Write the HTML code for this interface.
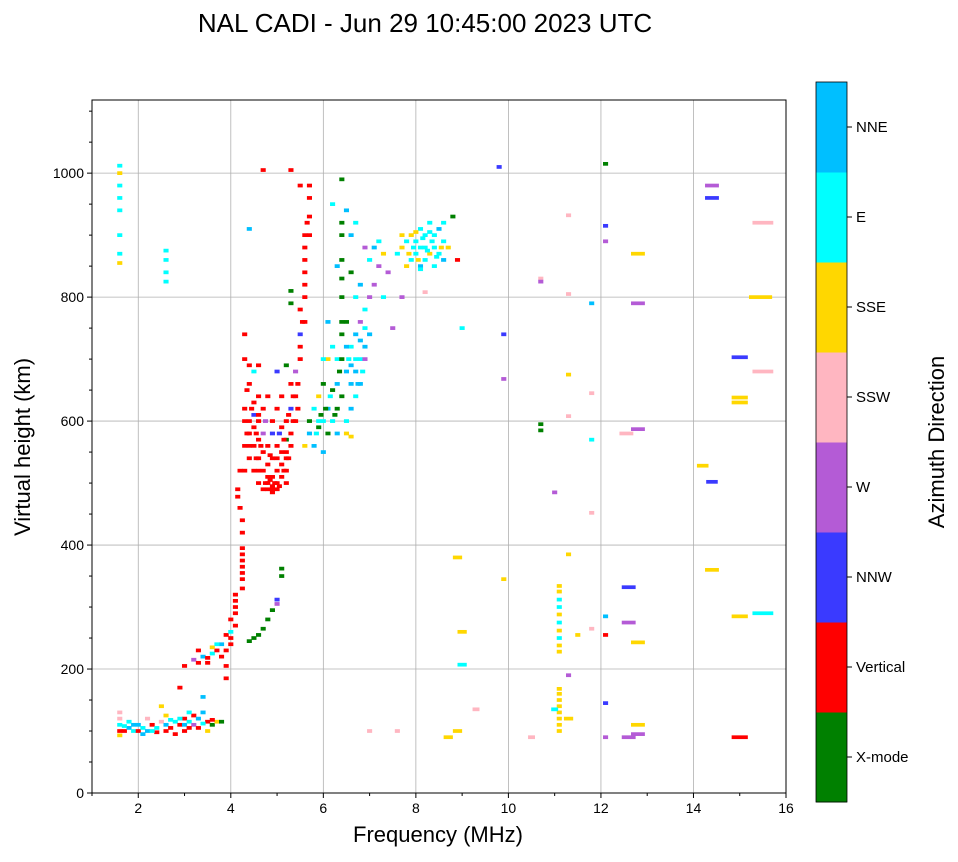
<!DOCTYPE html>
<html><head><meta charset="utf-8"><style>
body{margin:0;background:#fff;font-family:"Liberation Sans",sans-serif}
</style></head><body>
<svg id="chart" width="958" height="857" xmlns="http://www.w3.org/2000/svg" font-family="Liberation Sans, sans-serif">
<text x="425" y="32" font-size="26" text-anchor="middle">NAL CADI - Jun 29 10:45:00 2023 UTC</text>
<g id="grid"></g>
<g id="marks"></g>
<rect x="92" y="100" width="694" height="693" fill="none" stroke="#000" stroke-width="1"/>
<g id="axes"></g>
<text x="438" y="842" font-size="22" text-anchor="middle">Frequency (MHz)</text>
<text transform="translate(30,447) rotate(-90)" font-size="22" text-anchor="middle">Virtual height (km)</text>
<g id="cbar"></g>
<text transform="translate(944,442) rotate(-90)" font-size="22" text-anchor="middle">Azimuth Direction</text>
</svg>
<script>
const xTicks=[2,4,6,8,10,12,14,16];
const yTicks=[0,200,400,600,800,1000];
const dirNames=["X-mode","Vertical","NNW","W","SSW","SSE","E","NNE"];
const dirColors=["#008000","#ff0000","#3a3aff","#b45bd6","#ffb6c1","#ffd700","#00ffff","#00bfff"];
// cells: [freq MHz, height km, direction index, optional width MHz]
const lowCells=[[1.6,100,1],[1.6,110,6],[1.6,120,4],[1.6,130,4],[1.6,93,5],[1.7,100,1],[1.8,105,7],[1.9,100,6],[2.0,110,7],[2.0,100,1],[2.1,105,6],[2.2,100,7],[2.3,110,1],[2.4,105,6],[2.5,115,4],[2.6,110,7],[2.7,105,1],[2.8,115,6],[2.9,110,1],[3.0,120,1],[3.0,110,7],[3.1,115,6],[3.2,125,1],[3.3,120,7],[3.4,130,7],[3.4,155,7],[3.5,115,1],[3.6,110,0],[3.7,115,5],[3.8,115,0],[2.5,140,5],[2.9,170,1],[3.1,130,6],[2.2,120,4],[2.8,95,1],[1.8,115,6],[3.5,100,5],[3.2,110,3],[2.1,95,7],[2.6,125,5],[2.4,98,1],[2.7,118,6],[3.0,100,1],[3.3,105,1],[1.9,110,7],[2.3,100,6],[2.6,100,1],[2.9,120,6],[3.1,105,1],[3.4,112,6],[3.6,118,1],[1.7,108,6]];
const traceCells=[[3.0,205,1],[3.2,215,3],[3.3,210,1],[3.4,220,7],[3.5,210,1],[3.6,225,6],[3.7,230,1],[3.8,240,7],[3.9,255,1],[4.0,260,6],[4.0,240,1],[3.9,230,1],[4.0,280,1],[4.1,300,1],[4.1,320,1],[3.8,220,1],[3.9,205,1],[3.9,185,1],[3.6,235,5],[3.3,230,1],[4.1,290,1],[4.1,310,1],[4.25,330,1],[4.25,345,1],[4.25,355,1],[4.25,365,1],[4.25,375,1],[4.25,385,1],[4.25,395,1],[4.25,420,1],[4.25,440,1],[4.2,460,1],[4.15,478,1],[4.15,490,1],[4.2,520,1],[4.4,245,0],[4.5,250,0],[4.6,255,0],[4.7,265,0],[4.8,280,0],[4.9,295,0],[5.0,305,3],[5.0,312,2],[5.1,350,0],[5.1,362,0],[3.5,218,1],[3.7,240,6],[4.0,250,1],[4.1,270,1]];
const redCells=[[4.3,560,1],[4.3,600,1],[4.3,620,1],[4.3,700,1],[4.3,740,1],[4.4,540,1],[4.4,580,1],[4.4,660,1],[4.4,690,1],[4.5,520,1],[4.5,560,1],[4.5,610,2],[4.5,630,1],[4.5,680,6],[4.6,500,1],[4.6,540,1],[4.6,570,1],[4.6,600,1],[4.6,690,1],[4.7,490,1],[4.7,520,1],[4.7,550,1],[4.7,580,3],[4.7,620,1],[4.8,490,1],[4.8,500,1],[4.8,530,1],[4.8,560,1],[4.8,640,1],[4.9,485,1],[4.9,495,1],[4.9,510,1],[4.9,540,1],[4.9,580,2],[4.9,600,1],[5.0,490,1],[5.0,500,1],[5.0,520,1],[5.0,560,1],[5.0,620,1],[5.0,680,2],[5.1,510,1],[5.1,530,1],[5.1,550,1],[5.1,590,1],[5.1,640,1],[5.2,520,1],[5.2,540,1],[5.2,570,0],[5.2,600,1],[5.2,690,0],[5.3,560,1],[5.3,580,1],[5.3,620,2],[5.3,660,1],[4.6,640,1],[4.4,600,1],[4.3,520,1],[4.5,590,1],[4.8,510,1],[5.0,540,1],[5.2,550,1],[4.6,520,1],[4.4,560,1],[5.4,600,1],[5.4,640,1],[5.5,700,1],[5.5,740,2],[5.5,780,1],[5.6,820,1],[5.6,860,1],[5.6,900,1],[5.7,930,1],[5.7,960,1],[5.7,980,1],[5.5,980,1],[4.7,1005,1],[5.3,1005,1],[5.6,880,1],[5.4,680,3],[5.3,790,0],[5.3,810,0],[5.5,720,1],[5.6,760,1],[5.6,840,1],[5.7,900,1],[4.9,490,1],[4.95,500,1],[5.05,495,1],[4.85,505,1],[4.75,500,1],[5.15,520,1],[5.25,540,1],[4.55,580,1],[4.65,560,1],[4.45,620,1],[4.35,650,1],[5.35,600,1],[5.45,620,1],[5.25,610,1],[4.75,600,3],[5.05,580,2],[5.15,570,1],[4.55,540,1],[4.85,545,1],[5.35,640,1],[5.45,660,1],[4.35,580,1],[5.2,500,1],[4.6,610,1],[5.55,760,1],[5.6,800,1],[5.65,920,1]];
const greenCells=[[5.6,560,5],[5.7,580,7],[5.7,600,0],[5.8,620,6],[5.8,560,7],[5.9,590,0],[5.9,640,5],[6.0,550,7],[6.0,600,6],[6.0,660,0],[6.1,580,0],[6.1,620,7],[6.1,700,5],[6.2,600,6],[6.2,650,0],[6.3,580,7],[6.3,620,0],[6.3,700,6],[6.4,640,0],[6.4,740,0],[6.4,800,0],[6.4,860,0],[6.4,920,0],[6.4,990,0],[6.5,600,6],[6.5,680,7],[6.5,760,0],[6.5,940,7],[6.6,620,7],[6.6,660,7],[6.6,720,6],[6.6,840,0],[6.6,900,7],[6.7,640,6],[6.7,680,7],[6.7,740,7],[6.7,800,6],[6.8,660,7],[6.8,700,6],[6.8,760,3],[6.8,820,7],[6.9,700,3],[6.9,720,7],[6.9,780,6],[7.0,740,7],[7.0,800,3],[7.0,860,6],[7.1,880,7],[7.1,820,3],[7.2,850,3],[7.2,890,6],[7.3,870,5],[7.3,800,6],[7.4,840,3],[7.5,750,3],[6.2,720,6],[6.1,760,7],[5.9,600,6],[6.0,700,6],[6.3,660,7],[6.5,580,5],[6.6,575,5],[6.9,880,3],[6.7,920,6],[6.2,950,6],[6.3,850,7],[6.4,700,0],[6.4,760,0],[6.4,830,0],[6.4,900,0],[6.7,700,6],[6.8,730,7],[6.6,690,7],[6.5,720,7],[6.9,750,6],[6.05,620,0],[6.15,640,6],[6.25,610,0],[6.35,680,0],[6.55,700,6],[6.75,660,7],[6.85,680,6],[5.95,610,0],[5.85,580,6]];
const cyanCells=[[7.6,870,6],[7.7,880,5],[7.8,890,6],[7.8,850,5],[7.9,860,6],[7.9,900,5],[8.0,870,6],[8.0,890,6],[8.1,850,7],[8.1,880,6],[8.1,910,6],[8.2,860,6],[8.2,900,6],[8.3,870,5],[8.3,920,6],[8.4,880,6],[8.4,850,6],[8.5,910,7],[8.5,870,6],[8.6,890,6],[8.6,920,6],[8.7,880,5],[8.8,930,0],[8.9,860,1],[7.7,900,5],[8.0,905,5],[8.2,880,6],[8.4,900,6],[8.6,860,7],[7.95,880,6],[8.05,860,5],[8.15,895,6],[8.25,875,6],[8.35,890,6],[8.45,865,6],[8.55,880,5],[7.85,870,5],[8.1,845,6],[8.3,905,6],[1.6,855,5],[1.6,870,6],[1.6,900,6],[1.6,940,6],[1.6,960,6],[1.6,980,6],[1.6,1000,5],[1.6,1012,6],[2.6,825,6],[2.6,840,6],[2.6,860,6],[2.6,875,6]];
const col11=[[11.1,100,5],[11.1,110,5],[11.1,120,5],[11.1,130,5],[11.1,140,5],[11.1,150,5],[11.1,160,5],[11.1,168,5],[11.1,228,5],[11.1,238,5],[11.1,250,6],[11.1,262,5],[11.1,275,6],[11.1,288,5],[11.1,300,6],[11.1,312,6],[11.1,325,5],[11.1,334,5]];
const scatterCells=[[4.4,910,7],[9.8,1010,2],[9.0,750,6],[9.9,740,2],[9.9,668,3],[10.7,830,4],[10.7,825,3],[10.7,585,0],[10.7,595,0],[11.0,485,3],[11.3,805,4],[11.3,675,5],[11.3,608,4],[11.3,385,5],[11.8,790,7],[11.8,645,4],[11.8,570,6],[11.8,452,4],[11.8,265,4],[12.1,915,2],[12.1,890,3],[12.1,1015,0],[12.1,285,7],[12.1,255,1],[12.1,145,2],[12.1,90,3],[12.8,870,5,0.3],[12.8,790,3,0.3],[12.8,587,3,0.3],[12.55,580,4,0.3],[12.6,332,2,0.3],[12.6,275,3,0.3],[12.8,243,5,0.3],[12.8,110,5,0.3],[12.8,95,3,0.3],[12.6,90,3,0.3],[14.2,528,5,0.25],[14.4,980,3,0.3],[14.4,960,2,0.3],[14.4,502,2,0.25],[14.4,360,5,0.3],[15.0,703,2,0.35],[15.0,638,5,0.35],[15.0,630,5,0.35],[15.5,680,4,0.45],[15.5,920,4,0.45],[15.0,285,5,0.35],[15.5,290,6,0.45],[15.0,90,1,0.35],[15.45,800,5,0.5],[8.9,380,5,0.2],[9.0,260,5,0.2],[9.0,207,6,0.2],[9.3,135,4,0.15],[8.9,100,5,0.2],[8.7,90,5,0.2],[9.9,345,5],[10.5,90,4,0.15],[11.0,135,6,0.15],[11.3,120,5,0.2],[11.3,190,3],[11.5,255,5],[11.3,932,4],[7.7,800,3],[8.2,808,4],[7.0,100,4],[7.6,100,4]];
const allCells=[].concat(lowCells,traceCells,redCells,greenCells,cyanCells,col11,scatterCells);

const X0=92,X1=786,Y0=793,Y1=100,FMIN=1,FMAX=16,HMIN=0,HMAX=1118;
function xs(f){return X0+(f-FMIN)/(FMAX-FMIN)*(X1-X0);}
function ys(h){return Y0-(h-HMIN)/(HMAX-HMIN)*(Y0-Y1);}
const NS="http://www.w3.org/2000/svg";
function mk(tag,attrs,parent){const e=document.createElementNS(NS,tag);for(const k in attrs)e.setAttribute(k,attrs[k]);parent.appendChild(e);return e;}
const grid=document.getElementById('grid'),axes=document.getElementById('axes'),marks=document.getElementById('marks'),cbar=document.getElementById('cbar');
xTicks.forEach(t=>{const x=xs(t);
 const g=mk('line',{x1:x,x2:x,y1:Y1,y2:Y0,stroke:'#b0b0b0','stroke-width':0.8},grid);
 
 
 mk('line',{x1:x,x2:x,y1:Y0,y2:Y0+5,stroke:'#000'},axes);
 const l=mk('text',{x:x,y:Y0+20,'font-size':14,'text-anchor':'middle'},axes);l.textContent=t;
 
 
});
for(let f=1;f<=16;f+=2){mk('line',{x1:xs(f),x2:xs(f),y1:Y0,y2:Y0+3,stroke:'#000'},axes);}
yTicks.forEach(t=>{const y=ys(t);
 const g=mk('line',{x1:X0,x2:X1,y1:y,y2:y,stroke:'#b0b0b0','stroke-width':0.8},grid);
 
 
 mk('line',{x1:X0-5,x2:X0,y1:y,y2:y,stroke:'#000'},axes);
 const l=mk('text',{x:X0-8,y:y+5,'font-size':14,'text-anchor':'end'},axes);l.textContent=t;
 
 
});
for(let h=50;h<=1100;h+=50){if(h%200)mk('line',{x1:X0-3,x2:X0,y1:ys(h),y2:ys(h),stroke:'#000'},axes);}
allCells.forEach(c=>{const w=c[3]||0.11;
 const r=mk('rect',{x:xs(c[0]-w/2),y:ys(c[1]+3),width:xs(w)-xs(0),height:ys(0)-ys(6),fill:dirColors[c[2]]},marks);
 
 
});
const CBX=816,CBW=31,CBT=82,CBB=802,seg=(CBB-CBT)/dirNames.length;
dirNames.forEach((n,i)=>{const y=CBB-(i+1)*seg;
 const r=mk('rect',{x:CBX,y:y,width:CBW,height:seg+0.5,fill:dirColors[i]},cbar);
 
 
 mk('line',{x1:CBX+CBW,x2:CBX+CBW+5,y1:y+seg/2,y2:y+seg/2,stroke:'#000'},cbar);
 const l=mk('text',{x:CBX+CBW+9,y:y+seg/2+5,'font-size':15},cbar);l.textContent=n;
 
 
});
mk('rect',{x:CBX,y:CBT,width:CBW,height:CBB-CBT,fill:'none',stroke:'#000','stroke-width':0.8},cbar);
</script>
</body></html>
